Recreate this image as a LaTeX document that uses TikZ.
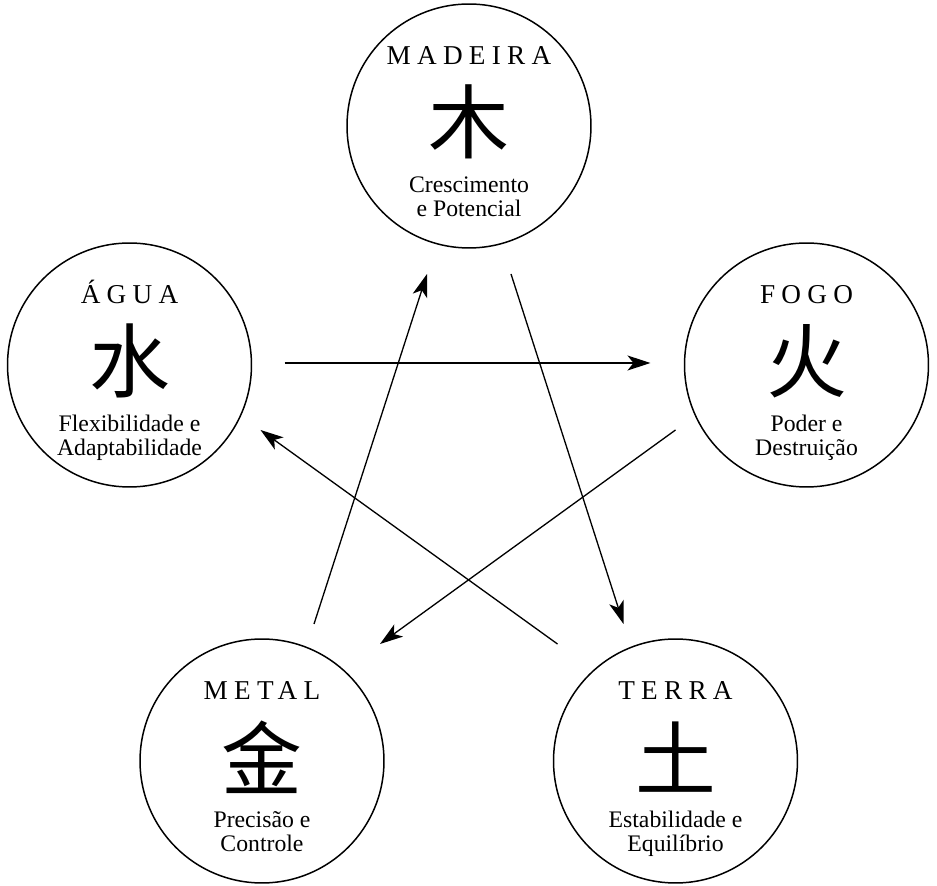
\documentclass[tikz,border=0pt]{standalone}
\usepackage{fontspec}
\setmainfont{Liberation Serif}
\newfontfamily\cjk{Noto Sans CJK SC}
\newfontfamily\spaced[LetterSpace=23]{Liberation Serif}
\usetikzlibrary{arrows.meta}

\begin{document}
\begin{tikzpicture}[x=0.02cm, y=0.02cm,
  elem/.style={draw, circle, minimum size=4.88cm, inner sep=0pt, line width=0.85pt},
  titulo/.style={font=\spaced\fontsize{15.5}{16}\selectfont, inner sep=0pt, anchor=base},
  ideo/.style={font=\cjk\fontsize{46}{46}\selectfont, inner sep=0pt},
  desc/.style={font=\fontsize{13.5}{14.2}\selectfont, align=center, inner sep=0pt, anchor=base},
  seta/.style={-{Stealth[length=0.46cm, width=0.3cm, inset=0.12cm]}, line width=0.75pt}]
\useasboundingbox (0,0) rectangle (937,886);
% elementos
\foreach \nome/\x/\y/\tit/\ch/\txt in {
  madeira/469/760/MADEIRA/木/{Crescimento\\e Potencial},
  agua/129.5/521/ÁGUA/水/{Flexibilidade e\\Adaptabilidade},
  fogo/806.5/521/FOGO/火/{Poder e\\Destruição},
  metal/262/125/METAL/金/{Precisão e\\Controle},
  terra/675.5/125/TERRA/土/{Estabilidade e\\Equilíbrio}} {
  \node[elem] (\nome) at (\x,\y) {};
  \node[titulo] (\nome-t) at ([shift={(0,61)}]\nome.center) {\tit};
  \node[ideo] (\nome-c) at ([shift={(0,4)}]\nome.center) {\ch};
  \node[desc] (\nome-d) at ([shift={(0,-91)}]\nome.center) {\txt};
}
% ciclo
\draw[seta] ([shift={(155,2)}]agua.center) -- ([shift={(-156,2)}]fogo.center);
\draw[seta] ([shift={(52,137)}]metal.center) -- ([shift={(-42,-148)}]madeira.center);
\draw[seta] ([shift={(42,-148)}]madeira.center) -- ([shift={(-52,137)}]terra.center);
\draw[seta] ([shift={(-131,-65)}]fogo.center) -- ([shift={(118,117)}]metal.center);
\draw[seta] ([shift={(-118,117)}]terra.center) -- ([shift={(131,-65)}]agua.center);
\end{tikzpicture}
\end{document}
